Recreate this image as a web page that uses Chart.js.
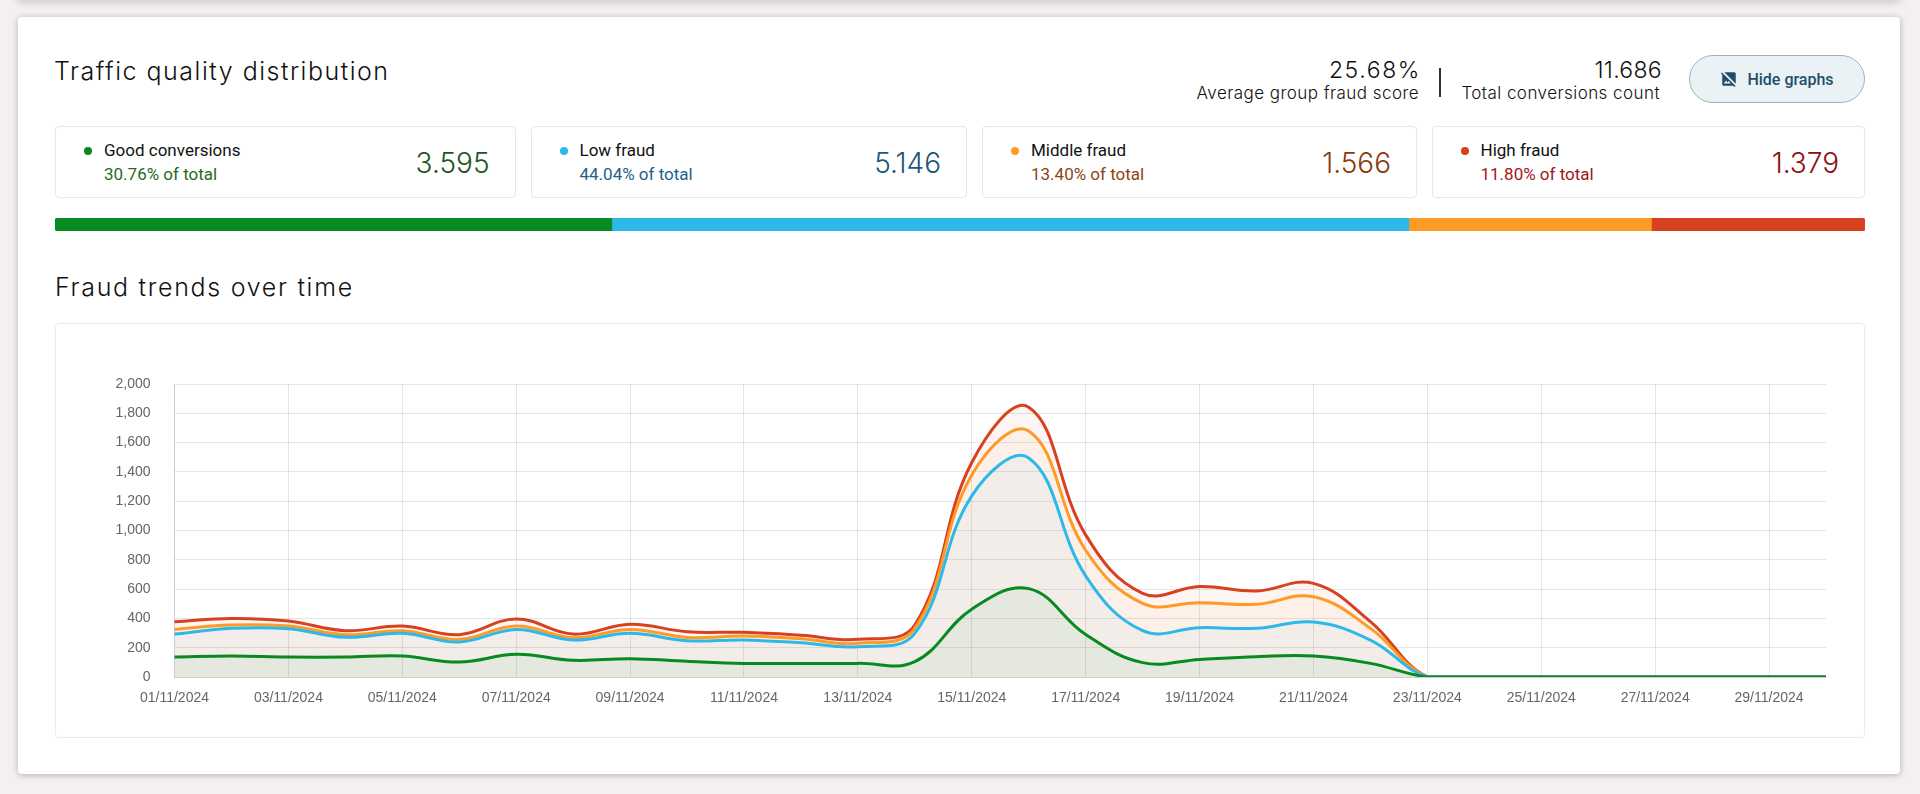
<!DOCTYPE html>
<html>
<head>
<meta charset="utf-8">
<title>Traffic quality distribution</title>
<script src="https://cdn.jsdelivr.net/npm/chart.js@4.4.1/dist/chart.umd.min.js"></script>
<style>
  body { margin: 0; width: 1920px; height: 794px; background: #f3f0ef; position: relative; overflow: hidden; font-family: Roboto, sans-serif; }
  .abs { position: absolute; white-space: nowrap; }
  .topcard { position: absolute; left: 18px; top: -40px; width: 1882px; height: 40px; background: #fff; box-shadow: 0 1px 9px rgba(0,0,0,.22); }
  .card { position: absolute; left: 18px; top: 17px; width: 1882px; height: 757px; background: #fff; border-radius: 4px; box-shadow: 0 1px 6px rgba(0,0,0,.28); }
  .light { font-family: Inter, Lato, sans-serif; font-weight: 300; line-height: 1; color: #111; }
  .h1 { font-size: 25px; letter-spacing: 1.5px; }
  .big { font-size: 23px; text-align: right; letter-spacing: 1.6px; }
  .sub { font-size: 17px; text-align: right; letter-spacing: 0.45px; }
  .sep { position: absolute; left: 1439px; top: 68px; width: 2px; height: 29px; background: #333; }
  .btn { position: absolute; left: 1689px; top: 55px; width: 176px; height: 48px; box-sizing: border-box; border: 1px solid #a3b1b8; border-radius: 24px; background: #eaf2f5;
         display: flex; align-items: center; justify-content: center; gap: 9px; font: 500 16px Roboto, sans-serif; color: #1f4e6b; }
  .stat { position: absolute; top: 125.5px; height: 72px; box-sizing: border-box; border: 1px solid #e6e6e6; border-radius: 4px; background: #fff; }
  .stat .dot { position: absolute; left: 28px; top: 20px; width: 8px; height: 8px; border-radius: 50%; }
  .stat .name { position: absolute; left: 48px; top: 15px; font-size: 17px; line-height: 1; color: #111; }
  .stat .share { position: absolute; left: 48px; top: 39px; font-size: 17px; line-height: 1; }
  .stat .num { position: absolute; right: 25px; top: 22.5px; font-size: 28px; }
  #split { position: absolute; left: 55px; top: 218px; }
  .chartcard { position: absolute; left: 55px; top: 323px; width: 1810px; height: 415px; box-sizing: border-box; border: 1px solid #ebebeb; border-radius: 4px; background: #fff; }
  #trend { position: absolute; left: 0; top: 0; }
</style>
</head>
<body>
<div class="topcard"></div>
<div class="card"></div>

<div class="abs light h1" style="left:54px; top:58.5px;">Traffic quality distribution</div>

<div class="abs light big" style="right:499px; top:58.5px;">25.68%</div>
<div class="abs light sub" style="right:501px; top:85.3px;">Average group fraud score</div>
<div class="sep"></div>
<div class="abs light big" style="right:258px; top:58.5px; letter-spacing:0.3px;">11.686</div>
<div class="abs light sub" style="right:260px; top:85.3px;">Total conversions count</div>

<div class="btn">
  <svg width="18" height="18" viewBox="0 0 24 24"><path fill="#1f4e6b" d="M21 18.2 5.8 3H19a2 2 0 0 1 2 2v13.2zM19.4 22.8 17.6 21H5a2 2 0 0 1-2-2V6.4L1.2 4.6 2.6 3.2l18.2 18.2-1.4 1.4zM14.6 18l-3.3-3.3-1.3 1.8L8 14l-3 4h9.6z"/></svg>
  <span>Hide graphs</span>
</div>

<div id="stats"></div>
<canvas id="split" width="1810" height="13"></canvas>

<div class="abs light h1" style="left:55px; top:275.3px; letter-spacing:1.7px;">Fraud trends over time</div>

<div class="chartcard"><canvas id="trend" width="1808" height="413"></canvas></div>

<script>
// categories
const days = [
  "01/11/2024", "02/11/2024", "03/11/2024", "04/11/2024", "05/11/2024", "06/11/2024",
  "07/11/2024", "08/11/2024", "09/11/2024", "10/11/2024", "11/11/2024", "12/11/2024",
  "13/11/2024", "14/11/2024", "15/11/2024", "16/11/2024", "17/11/2024", "18/11/2024",
  "19/11/2024", "20/11/2024", "21/11/2024", "22/11/2024", "23/11/2024", "24/11/2024",
  "25/11/2024", "26/11/2024", "27/11/2024", "28/11/2024", "29/11/2024", "30/11/2024",
];

// conversions per day, one array per quality group (stacked in the chart)
const goodConversions = [136, 143, 136, 136, 143, 102, 155, 114, 125, 107, 93, 93, 93, 105, 463, 603, 290, 98, 120, 139, 143, 93, 0, 0, 0, 0, 0, 0, 0, 0];
const lowFraud = [157, 189, 194, 135, 155, 137, 170, 138, 173, 141, 160, 140, 114, 193, 773, 892, 400, 218, 217, 193, 232, 159, 0, 0, 0, 0, 0, 0, 0, 0];
const middleFraud = [32, 23, 18, 18, 18, 18, 23, 16, 27, 22, 27, 28, 23, 34, 143, 185, 175, 187, 170, 164, 173, 80, 0, 0, 0, 0, 0, 0, 0, 0];
const highFraud = [52, 45, 34, 27, 32, 32, 48, 25, 35, 39, 25, 24, 27, 23, 85, 162, 105, 68, 110, 91, 91, 46, 0, 0, 0, 0, 0, 0, 0, 0];

// summary boxes
const groupNames = ["Good conversions", "Low fraud", "Middle fraud", "High fraud"];
const groupTotals = [3595, 5146, 1566, 1379];
const groupShares = ["30.76%", "44.04%", "13.40%", "11.80%"];

// y axis
const yMin = 0;
const yMax = 2000;
const yStep = 200;

const colors = ["#078a1f", "#2cb9e9", "#fe9a26", "#d6411f"];
const fills = ["rgba(7,138,31,0.05)", "rgba(44,185,233,0.05)", "rgba(254,154,38,0.05)", "rgba(214,65,31,0.05)"];
const numColors = ["#1c561c", "#1c5878", "#873c0e", "#8a1010"];
const shareColors = ["#2a6a24", "#1f5f8c", "#8c4613", "#a3161a"];
const boxLeft = [55, 530.5, 982, 1431.5];
const boxWidth = [460.5, 436.5, 435, 433.5];

//build the four summary boxes
const stats = document.querySelector("#stats");
groupNames.forEach((name, i) => {
  const box = document.createElement("div");
  box.className = "stat";
  box.style.left = boxLeft[i] + "px";
  box.style.width = boxWidth[i] + "px";
  box.innerHTML =
    '<div class="dot" style="background:' + colors[i] + '"></div>' +
    '<div class="name">' + name + "</div>" +
    '<div class="share" style="color:' + shareColors[i] + '">' + groupShares[i] + " of total</div>" +
    '<div class="num light" style="color:' + numColors[i] + '">' + groupTotals[i].toLocaleString("de-DE") + "</div>";
  stats.appendChild(box);
});

//split bar under the boxes
const allTotal = groupTotals.reduce((a, b) => a + b, 0);
new Chart(document.querySelector("#split"), {
  type: "bar",
  data: {
    labels: ["total"],
    datasets: groupNames.map((name, i) => ({
      label: name,
      data: [groupTotals[i]],
      backgroundColor: colors[i],
      borderRadius: 3,
      borderSkipped: "middle",
      barPercentage: 1,
      categoryPercentage: 1,
    })),
  },
  options: {
    indexAxis: "y",
    responsive: false,
    animation: false,
    layout: { padding: 0 },
    scales: {
      x: { stacked: true, display: false, min: 0, max: allTotal },
      y: { stacked: true, display: false },
    },
    plugins: { legend: { display: false }, tooltip: { enabled: false } },
  },
});

//trend line chart
Chart.defaults.font.family = "'Liberation Sans', Arial, sans-serif";
Chart.defaults.font.size = 14;
Chart.defaults.color = "#666";

const series = [goodConversions, lowFraud, middleFraud, highFraud];

new Chart(document.querySelector("#trend"), {
  type: "line",
  data: {
    labels: days,
    datasets: series.map((values, i) => ({
      label: groupNames[i],
      data: values,
      borderColor: colors[i],
      backgroundColor: fills[i],
      borderWidth: 3,
      fill: "origin",
      tension: 0.4,
      pointRadius: 0,
    })),
  },
  options: {
    responsive: false,
    animation: false,
    layout: { padding: { top: 60, right: 38, left: 0, bottom: 0 } },
    scales: {
      x: {
        grid: { drawTicks: false, color: "rgba(0,0,0,0.1)" },
        ticks: {
          autoSkip: false,
          maxRotation: 0,
          padding: 13,
          // only every second date, grid line hides with it
          callback: function (value, index) {
            return index % 2 === 0 ? this.getLabelForValue(value) : null;
          },
        },
        afterFit: (scale) => { scale.height = 60; },
      },
      y: {
        stacked: true,
        min: yMin,
        max: yMax,
        grid: { drawTicks: false, color: "rgba(0,0,0,0.1)" },
        ticks: {
          stepSize: yStep,
          padding: 24,
          callback: (value) => value.toLocaleString("en-US"),
        },
        afterFit: (scale) => { scale.width = 118.5; },
      },
    },
    plugins: { legend: { display: false }, tooltip: { enabled: false } },
  },
});
</script>
</body>
</html>
